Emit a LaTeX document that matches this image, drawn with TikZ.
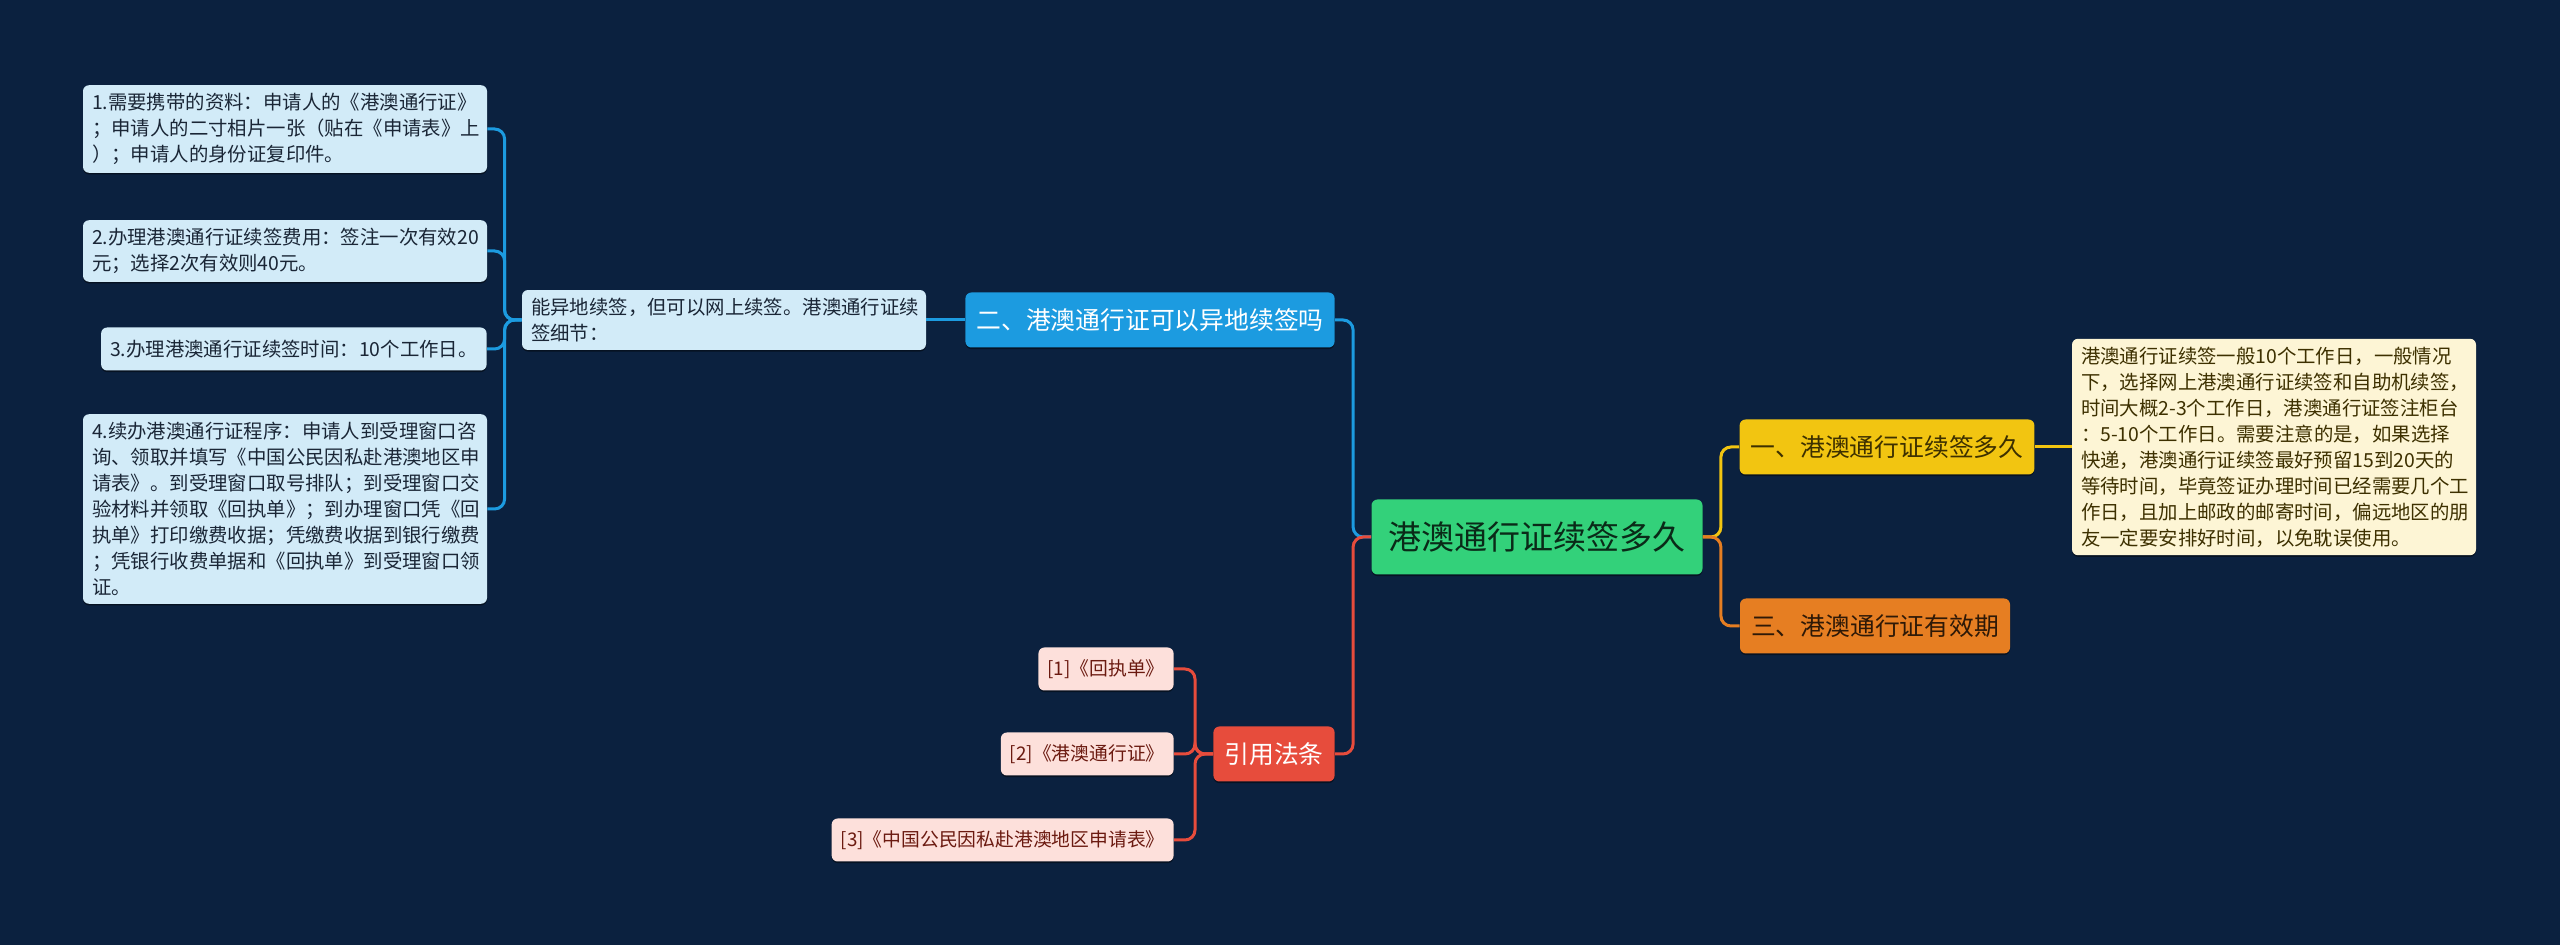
\documentclass[tikz,border=0pt]{standalone}
\usepackage{fontspec}
\setmainfont{Noto Sans CJK SC}
\usetikzlibrary{positioning,calc,shadows}
\definecolor{mmNavy}{HTML}{0B213F}
\definecolor{mmBlue}{HTML}{1C9BE0}
\definecolor{mmSky}{HTML}{D2EBF8}
\definecolor{mmGreen}{HTML}{33D17A}
\definecolor{mmYellow}{HTML}{F2C511}
\definecolor{mmCream}{HTML}{FDF5D5}
\definecolor{mmOrange}{HTML}{E67E22}
\definecolor{mmRed}{HTML}{E74C3C}
\definecolor{mmPink}{HTML}{FDE0DB}
\definecolor{mmInk}{HTML}{1A2636}
\definecolor{mmBrown}{HTML}{3D3000}
\definecolor{mmWine}{HTML}{6B1A10}
\tikzset{
  base/.style={rounded corners=3pt, inner xsep=4.5pt, inner ysep=4pt, align=left,
              drop shadow={shadow xshift=0pt, shadow yshift=-0.8pt, opacity=0.45, fill=black}},
  leaf/.style={base, fill=mmSky, text=mmInk, font=\fontsize{9.7}{13}\selectfont},
  note/.style={base, fill=mmCream, text=mmBrown, font=\fontsize{9.7}{13}\selectfont},
  refbox/.style={base, fill=mmPink, text=mmWine, minimum height=21.5pt,
              font=\fontsize{9.4}{12}\selectfont},
  mid/.style={base, inner xsep=5.5pt, minimum height=27.5pt, font=\fontsize{12.4}{15}\selectfont},
  topic/.style={mid, fill=mmBlue, text=white},
  yel/.style={mid, fill=mmYellow, text=mmBrown},
  org/.style={mid, fill=mmOrange, text=black!80!mmOrange},
  cite/.style={mid, fill=mmRed, text=white},
  root/.style={base, fill=mmGreen, text=black!80!mmGreen, inner xsep=8.5pt,
              minimum height=37.5pt, font=\fontsize{16.5}{19}\selectfont},
  link/.style={line width=1.5pt, rounded corners=5pt},
  bline/.style={link, draw=mmBlue},
  yline/.style={link, draw=mmYellow},
  oline/.style={link, draw=mmOrange},
  rline/.style={link, draw=mmRed},
}

\begin{document}
\begin{tikzpicture}[x=0.5pt,y=-0.5pt]
    \fill[mmNavy] (0,0) rectangle (2560,945);
    % central topic
    \node[root] (root) at (1537,537) {港澳通行证续签多久};
    % right side
    \node[yel] (one) at (1887,447) {一、港澳通行证续签多久};
    \node[org] (three) at (1875,626) {三、港澳通行证有效期};
    \node[note,text width=193pt] (onetxt) at (2274,447)
          {港澳通行证续签一般10个工作日，一般情况\\下，选择网上港澳通行证续签和自助机续签，\\时间大概2-3个工作日，港澳通行证签注柜台\\：5-10个工作日。需要注意的是，如果选择\\快递，港澳通行证续签最好预留15到20天的\\等待时间，毕竟签证办理时间已经需要几个工\\作日，且加上邮政的邮寄时间，偏远地区的朋\\友一定要安排好时间，以免耽误使用。};
    % left side, upper branch
    \node[topic] (two) at (1150,320) {二、港澳通行证可以异地续签吗};
    \node[leaf,text width=193pt] (twotxt) at (724,320)
          {能异地续签，但可以网上续签。港澳通行证续\\签细节：};
    \node[leaf,text width=193pt] (s1) at (285,129)
          {1.需要携带的资料：申请人的《港澳通行证》\\；申请人的二寸相片一张（贴在《申请表》上\\）；申请人的身份证复印件。};
    \node[leaf,text width=193pt] (s2) at (285,251)
          {2.办理港澳通行证续签费用：签注一次有效20\\元；选择2次有效则40元。};
    \node[leaf,anchor=east,minimum height=21.5pt] (s3) at (487,349)
          {3.办理港澳通行证续签时间：10个工作日。};
    \node[leaf,text width=193pt] (s4) at (285,509)
          {4.续办港澳通行证程序：申请人到受理窗口咨\\询、领取并填写《中国公民因私赴港澳地区申\\请表》。到受理窗口取号排队；到受理窗口交\\验材料并领取《回执单》；到办理窗口凭《回\\执单》打印缴费收据；凭缴费收据到银行缴费\\；凭银行收费单据和《回执单》到受理窗口领\\证。};
    % left side, lower branch
    \node[cite] (law) at (1274,754) {引用法条};
    \node[refbox,anchor=east] (r1) at (1174,669) {[1]《回执单》};
    \node[refbox,anchor=east] (r2) at (1174,754) {[2]《港澳通行证》};
    \node[refbox,anchor=east] (r3) at (1174,840) {[3]《中国公民因私赴港澳地区申请表》};
    % connectors
    \draw[bline] (root.west) -- ++(-18,0) |- (two.east);
    \draw[rline] (root.west) -- ++(-18,0) |- (law.east);
    \draw[yline] (root.east) -- ++(18,0) |- (one.west);
    \draw[oline] (root.east) -- ++(18,0) |- (three.west);
    \draw[yline] (one.east) -- (onetxt.west |- one.east);
    \draw[bline] (two.west) -- (twotxt.east);
    \foreach \s in {s1,s2,s3,s4}
      \draw[bline] (twotxt.west) -- ++(-17,0) |- (\s.east);
    \foreach \r in {r1,r2,r3}
      \draw[rline] (law.west) -- ++(-18,0) |- (\r.east);
\end{tikzpicture}
\end{document}
